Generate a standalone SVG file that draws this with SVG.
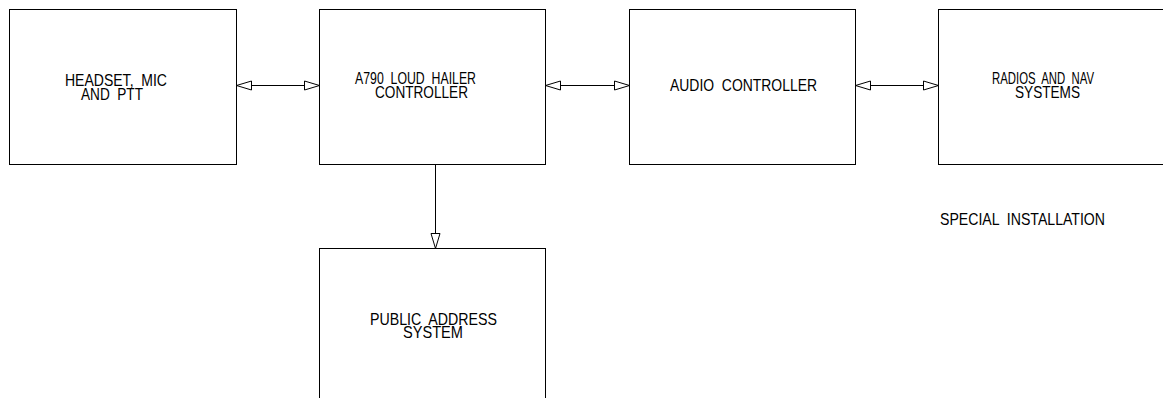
<svg xmlns="http://www.w3.org/2000/svg" width="1163" height="398" viewBox="0 0 1163 398">
<style>
  .box { fill: #fff; stroke: #000; stroke-width: 1; }
  .conn { stroke: #000; stroke-width: 1; fill: none; }
  .lbl { font-family: "Liberation Sans", Arial, sans-serif; font-size: 16.5px; fill: #000; white-space: pre; }
</style>
<defs>
  <marker id="tri" viewBox="-1 -1 17 11" refX="15" refY="4.5" markerWidth="17" markerHeight="11" markerUnits="userSpaceOnUse" orient="auto-start-reverse" overflow="visible">
    <path d="M0,0 L15,4.5 L0,9 Z" fill="#fff" stroke="#000" stroke-width="1"/>
  </marker>
</defs>
<rect width="1163" height="398" fill="#fff"/>
<g id="headset">
  <rect class="box" x="9.5" y="9.5" width="227" height="155"/>
  <text class="lbl"><tspan x="65" y="86" textLength="102" lengthAdjust="spacingAndGlyphs">HEADSET,  MIC</tspan><tspan x="81" y="100" textLength="62" lengthAdjust="spacingAndGlyphs">AND  PTT</tspan></text>
</g>
<g id="a790">
  <rect class="box" x="319.5" y="9.5" width="226" height="155"/>
  <text class="lbl"><tspan x="355" y="84" textLength="121" lengthAdjust="spacingAndGlyphs">A790  LOUD  HAILER</tspan><tspan x="375" y="98" textLength="93" lengthAdjust="spacingAndGlyphs">CONTROLLER</tspan></text>
</g>
<g id="audio">
  <rect class="box" x="629.5" y="9.5" width="226" height="155"/>
  <text class="lbl" x="670" y="91" textLength="147" lengthAdjust="spacingAndGlyphs">AUDIO  CONTROLLER</text>
</g>
<g id="radios">
  <rect class="box" x="938.5" y="9.5" width="230" height="155"/>
  <text class="lbl"><tspan x="992" y="84" textLength="102" lengthAdjust="spacingAndGlyphs">RADIOS  AND  NAV</tspan><tspan x="1015" y="98" textLength="65" lengthAdjust="spacingAndGlyphs">SYSTEMS</tspan></text>
</g>
<g id="pa">
  <rect class="box" x="319.5" y="248.5" width="226" height="160"/>
  <text class="lbl"><tspan x="370" y="325" textLength="127" lengthAdjust="spacingAndGlyphs">PUBLIC  ADDRESS</tspan><tspan x="403" y="338" textLength="60" lengthAdjust="spacingAndGlyphs">SYSTEM</tspan></text>
</g>
<g id="note">
  <text class="lbl" x="940" y="225" textLength="165" lengthAdjust="spacingAndGlyphs">SPECIAL  INSTALLATION</text>
</g>
<g id="connectors">
  <line class="conn" x1="236.5" y1="85.5" x2="319.5" y2="85.5" marker-start="url(#tri)" marker-end="url(#tri)"/>
  <line class="conn" x1="545.5" y1="85.5" x2="629.5" y2="85.5" marker-start="url(#tri)" marker-end="url(#tri)"/>
  <line class="conn" x1="855.5" y1="85.5" x2="938.5" y2="85.5" marker-start="url(#tri)" marker-end="url(#tri)"/>
  <line class="conn" x1="435.5" y1="164.5" x2="435.5" y2="248.5" marker-end="url(#tri)"/>
</g>
</svg>
